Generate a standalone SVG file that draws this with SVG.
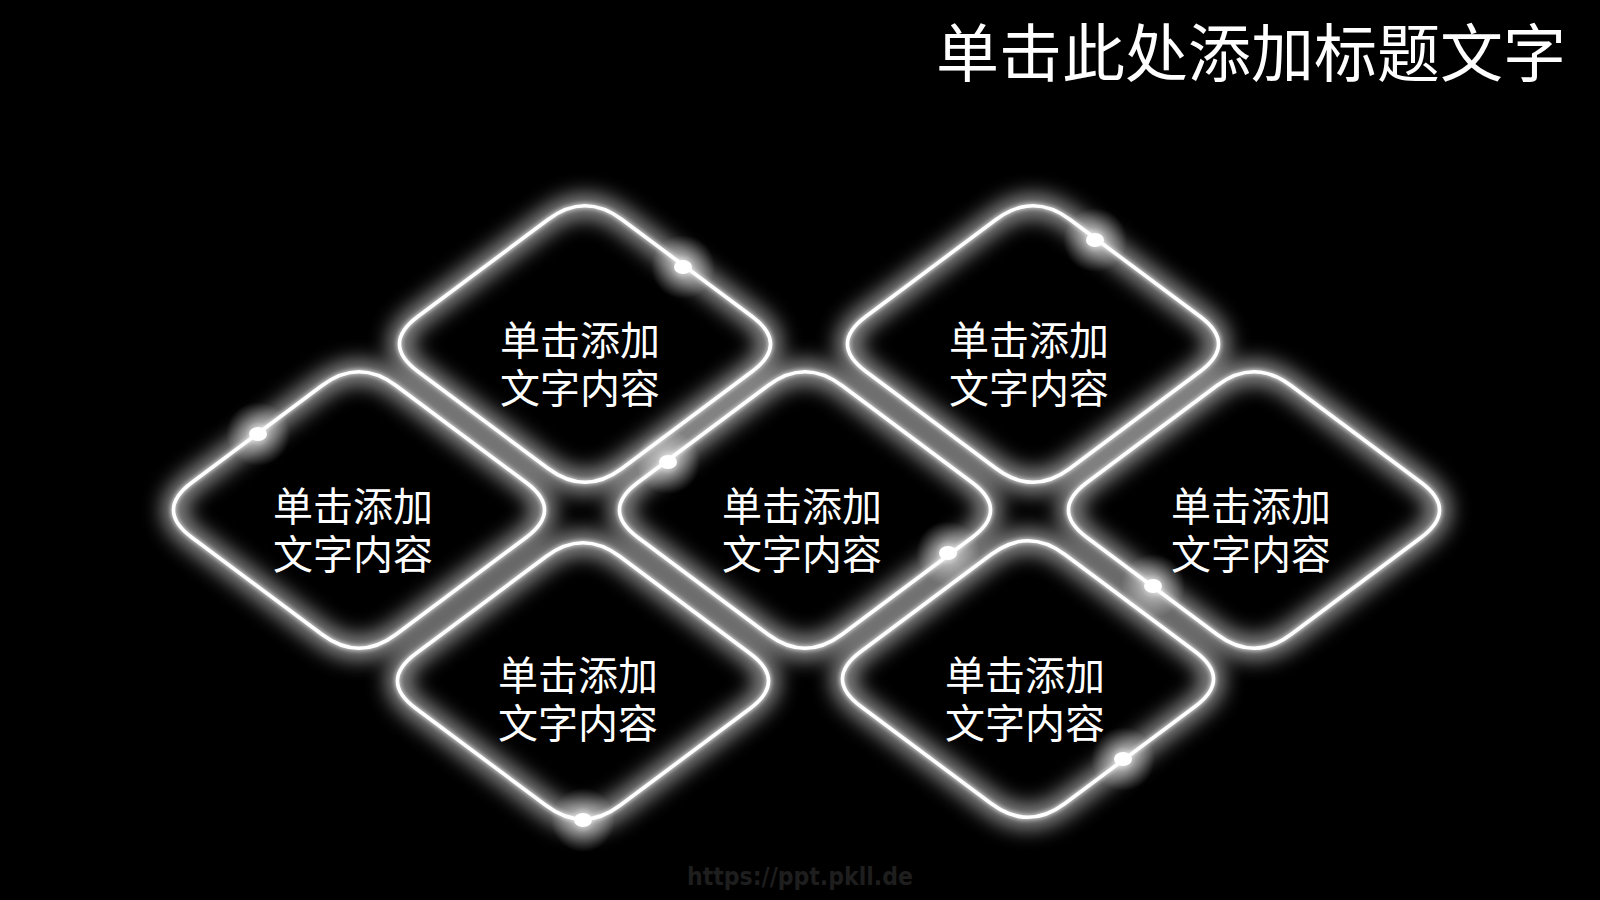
<svg xmlns="http://www.w3.org/2000/svg" width="1600" height="900" viewBox="0 0 1600 900">
  <style>
    .halo { fill: none; stroke: #ffffff; stroke-width: 18; opacity: 0.72; }
    .line { fill: none; stroke: #ffffff; stroke-width: 3.6; }
    .lbl { font-family: "Noto Sans CJK SC", "Microsoft YaHei", sans-serif; font-size: 40px; fill: #ffffff; text-anchor: middle; }
    .title { font-family: "Noto Sans CJK SC", "Microsoft YaHei", sans-serif; font-size: 63px; fill: #ffffff; text-anchor: end; }
    .wm { font-family: "DejaVu Sans", "Liberation Sans", sans-serif; font-size: 24px; font-weight: bold; fill: #1e1e1e; text-anchor: middle; }
    .dot { fill: #ffffff; }
    .dotglow { fill: url(#dg); }
  </style>
  <defs>
    <path id="dia" d="M -36.9,-124.5 Q 0,-152 36.9,-124.5 L 167.1,-27.5 Q 204,0 167.1,27.5 L 36.9,124.5 Q 0,152 -36.9,124.5 L -167.1,27.5 Q -204,0 -167.1,-27.5 Z"/>
    <filter id="blurBig" x="-30%" y="-30%" width="160%" height="160%">
      <feGaussianBlur stdDeviation="11"/>
    </filter>
    <filter id="soft" x="-20%" y="-20%" width="140%" height="140%">
      <feGaussianBlur in="SourceGraphic" stdDeviation="2.5" result="b"/>
      <feMerge>
        <feMergeNode in="b"/>
        <feMergeNode in="SourceGraphic"/>
      </feMerge>
    </filter>
    <radialGradient id="dg">
      <stop offset="0" stop-color="#ffffff" stop-opacity="0.9"/>
      <stop offset="0.4" stop-color="#ffffff" stop-opacity="0.4"/>
      <stop offset="1" stop-color="#ffffff" stop-opacity="0"/>
    </radialGradient>
  </defs>

  <rect x="0" y="0" width="1600" height="900" fill="#000000"/>

  <g id="title">
    <text class="title" x="1566" y="76">单击此处添加标题文字</text>
  </g>

  <g id="connectors"></g>

  <g id="node-top-left" transform="translate(585,344)">
    <use href="#dia" class="halo" filter="url(#blurBig)"/>
    <use href="#dia" class="line" filter="url(#soft)"/>
    <circle class="dotglow" cx="98" cy="-77" r="32"/>
    <ellipse class="dot" cx="98" cy="-77" rx="9" ry="7"/>
    <text class="lbl"><tspan x="-5" y="11">单击添加</tspan><tspan x="-5" y="59">文字内容</tspan></text>
  </g>

  <g id="node-top-right" transform="translate(1033,344)">
    <use href="#dia" class="halo" filter="url(#blurBig)"/>
    <use href="#dia" class="line" filter="url(#soft)"/>
    <circle class="dotglow" cx="62" cy="-104" r="32"/>
    <ellipse class="dot" cx="62" cy="-104" rx="9" ry="7"/>
    <text class="lbl"><tspan x="-4" y="11">单击添加</tspan><tspan x="-4" y="59">文字内容</tspan></text>
  </g>

  <g id="node-mid-left" transform="translate(359,510)">
    <use href="#dia" class="halo" filter="url(#blurBig)"/>
    <use href="#dia" class="line" filter="url(#soft)"/>
    <circle class="dotglow" cx="-101" cy="-76" r="32"/>
    <ellipse class="dot" cx="-101" cy="-76" rx="9" ry="7"/>
    <text class="lbl"><tspan x="-6" y="11">单击添加</tspan><tspan x="-6" y="59">文字内容</tspan></text>
  </g>

  <g id="node-mid-center" transform="translate(805,510)">
    <use href="#dia" class="halo" filter="url(#blurBig)"/>
    <use href="#dia" class="line" filter="url(#soft)"/>
    <circle class="dotglow" cx="-137" cy="-48" r="32"/>
    <ellipse class="dot" cx="-137" cy="-48" rx="9" ry="7"/>
    <circle class="dotglow" cx="143" cy="43" r="32"/>
    <ellipse class="dot" cx="143" cy="43" rx="9" ry="7"/>
    <text class="lbl"><tspan x="-3" y="11">单击添加</tspan><tspan x="-3" y="59">文字内容</tspan></text>
  </g>

  <g id="node-mid-right" transform="translate(1254,510)">
    <use href="#dia" class="halo" filter="url(#blurBig)"/>
    <use href="#dia" class="line" filter="url(#soft)"/>
    <circle class="dotglow" cx="-101" cy="76" r="32"/>
    <ellipse class="dot" cx="-101" cy="76" rx="9" ry="7"/>
    <text class="lbl"><tspan x="-3" y="11">单击添加</tspan><tspan x="-3" y="59">文字内容</tspan></text>
  </g>

  <g id="node-bottom-left" transform="translate(583,681)">
    <use href="#dia" class="halo" filter="url(#blurBig)"/>
    <use href="#dia" class="line" filter="url(#soft)"/>
    <circle class="dotglow" cx="0" cy="139" r="32"/>
    <ellipse class="dot" cx="0" cy="139" rx="9" ry="7"/>
    <text class="lbl"><tspan x="-5" y="9">单击添加</tspan><tspan x="-5" y="57">文字内容</tspan></text>
  </g>

  <g id="node-bottom-right" transform="translate(1028,679)">
    <use href="#dia" class="halo" filter="url(#blurBig)"/>
    <use href="#dia" class="line" filter="url(#soft)"/>
    <circle class="dotglow" cx="95" cy="80" r="32"/>
    <ellipse class="dot" cx="95" cy="80" rx="9" ry="7"/>
    <text class="lbl"><tspan x="-3" y="11">单击添加</tspan><tspan x="-3" y="59">文字内容</tspan></text>
  </g>

  <g id="watermark">
    <text class="wm" x="800" y="885" textLength="226" lengthAdjust="spacingAndGlyphs">https://ppt.pkll.de</text>
  </g>
</svg>
